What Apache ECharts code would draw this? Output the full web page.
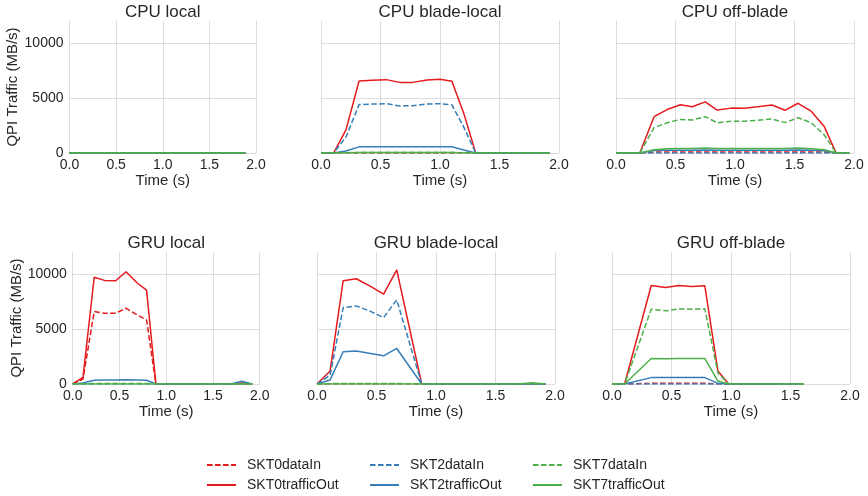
<!DOCTYPE html>
<html>
<head>
    <meta charset="utf-8">
    <title>QPI Traffic</title>
    <script src="https://cdn.jsdelivr.net/npm/echarts@6/dist/echarts.min.js"></script>
    <style>
        html, body { margin: 0; padding: 0; background: #fff; }
        #main { width: 868px; height: 496px; }
    </style>
</head>
<body>
<div id="main"></div>
<script type="text/javascript">

// series order in every panel
var seriesNames = ['SKT0dataIn', 'SKT0trafficOut', 'SKT2dataIn', 'SKT2trafficOut', 'SKT7dataIn', 'SKT7trafficOut'];
var panelTitles = ['CPU local', 'CPU blade-local', 'CPU off-blade', 'GRU local', 'GRU blade-local', 'GRU off-blade'];
var xTicks = [0, 0.5, 1.0, 1.5, 2.0];
var yTicks = [0, 5000, 10000];

// CPU local - everything sits at zero
var tCpuLocal = [0, 0.11, 0.22, 0.33, 0.44, 0.55, 0.66, 0.77, 0.88, 0.99, 1.1, 1.21, 1.32, 1.43, 1.54, 1.65, 1.76, 1.89];
var cpuLocal = [
    [0, 0, 0, 0, 0, 0, 0, 0, 0, 0, 0, 0, 0, 0, 0, 0, 0, 0],
    [0, 0, 0, 0, 0, 0, 0, 0, 0, 0, 0, 0, 0, 0, 0, 0, 0, 0],
    [0, 0, 0, 0, 0, 0, 0, 0, 0, 0, 0, 0, 0, 0, 0, 0, 0, 0],
    [0, 0, 0, 0, 0, 0, 0, 0, 0, 0, 0, 0, 0, 0, 0, 0, 0, 0],
    [0, 0, 0, 0, 0, 0, 0, 0, 0, 0, 0, 0, 0, 0, 0, 0, 0, 0],
    [0, 0, 0, 0, 0, 0, 0, 0, 0, 0, 0, 0, 0, 0, 0, 0, 0, 0]
];

// CPU blade-local
var tCpuBlade = [0, 0.106, 0.21, 0.32, 0.43, 0.55, 0.66, 0.77, 0.89, 1.0, 1.1, 1.2, 1.3, 1.41, 1.52, 1.62, 1.72, 1.82, 1.92];
var cpuBlade = [
    [0, 0, 0, 0, 0, 0, 0, 0, 0, 0, 0, 0, 0, 0, 0, 0, 0, 0, 0],
    [0, 0, 2100, 6550, 6620, 6670, 6420, 6420, 6640, 6700, 6520, 3600, 0, 0, 0, 0, 0, 0, 0],
    [0, 0, 1450, 4400, 4450, 4480, 4280, 4300, 4450, 4480, 4370, 2350, 0, 0, 0, 0, 0, 0, 0],
    [0, 0, 180, 560, 560, 560, 560, 560, 560, 560, 560, 280, 0, 0, 0, 0, 0, 0, 0],
    [0, 0, 20, 40, 40, 40, 40, 40, 40, 40, 40, 20, 0, 0, 0, 0, 0, 0, 0],
    [0, 0, 20, 40, 40, 40, 40, 40, 40, 40, 40, 20, 0, 0, 0, 0, 0, 0, 0]
];

// CPU off-blade
var tCpuOff = [0, 0.1, 0.2, 0.32, 0.43, 0.54, 0.64, 0.75, 0.85, 0.97, 1.08, 1.19, 1.31, 1.42, 1.53, 1.64, 1.75, 1.85, 1.96];
var cpuOff = [
    [0, 0, 0, 80, 90, 100, 100, 100, 100, 100, 100, 100, 100, 100, 100, 100, 80, 0, 0],
    [0, 0, 0, 3300, 3950, 4380, 4200, 4650, 3900, 4080, 4060, 4200, 4360, 3880, 4520, 3800, 2400, 0, 0],
    [0, 0, 0, 0, 0, 0, 0, 0, 0, 0, 0, 0, 0, 0, 0, 0, 0, 0, 0],
    [0, 0, 0, 220, 250, 260, 260, 270, 250, 250, 250, 260, 260, 250, 270, 250, 200, 0, 0],
    [0, 0, 0, 2300, 2750, 3050, 3000, 3300, 2750, 2880, 2880, 2980, 3100, 2760, 3200, 2750, 1650, 0, 0],
    [0, 0, 0, 300, 380, 420, 420, 450, 400, 400, 400, 420, 420, 400, 450, 380, 300, 0, 0]
];

// GRU local
var tGruLocal = [0, 0.11, 0.23, 0.34, 0.46, 0.57, 0.69, 0.79, 0.89, 1.0, 1.12, 1.23, 1.35, 1.46, 1.57, 1.69, 1.81, 1.92];
var gruLocal = [
    [0, 450, 6590, 6430, 6430, 6890, 6280, 5820, 0, 0, 0, 0, 0, 0, 0, 0, 0, 0],
    [0, 610, 9700, 9420, 9390, 10210, 9180, 8540, 0, 0, 0, 0, 0, 0, 0, 0, 80, 0],
    [0, 0, 20, 20, 20, 20, 20, 20, 0, 0, 0, 0, 0, 0, 0, 0, 0, 0],
    [0, 100, 350, 370, 370, 380, 370, 340, 0, 0, 0, 0, 0, 0, 0, 0, 250, 0],
    [0, 20, 50, 50, 50, 50, 50, 50, 0, 0, 0, 0, 0, 0, 0, 0, 0, 0],
    [0, 0, 0, 0, 0, 0, 0, 0, 0, 0, 0, 0, 0, 0, 0, 0, 0, 0]
];

// GRU blade-local
var tGruBlade = [0, 0.11, 0.22, 0.33, 0.45, 0.56, 0.67, 0.88, 1.0, 1.12, 1.23, 1.35, 1.46, 1.57, 1.69, 1.81, 1.92];
var gruBlade = [
    [0, 20, 30, 30, 30, 30, 30, 0, 0, 0, 0, 0, 0, 0, 0, 0, 0],
    [0, 1190, 9390, 9570, 8870, 8170, 10370, 0, 0, 0, 0, 0, 0, 0, 0, 0, 0],
    [0, 800, 6950, 7100, 6600, 6040, 7650, 0, 0, 0, 0, 0, 0, 0, 0, 0, 0],
    [0, 370, 2930, 2990, 2780, 2560, 3230, 0, 0, 0, 0, 0, 0, 0, 0, 0, 0],
    [0, 30, 50, 50, 50, 50, 50, 0, 0, 0, 0, 0, 0, 0, 0, 0, 0],
    [0, 0, 0, 0, 0, 0, 0, 0, 0, 0, 0, 0, 0, 0, 0, 120, 0]
];

// GRU off-blade
var tGruOff = [0, 0.106, 0.33, 0.45, 0.56, 0.67, 0.78, 0.89, 0.98, 1.1, 1.21, 1.32, 1.43, 1.52, 1.61];
var gruOff = [
    [0, 0, 60, 60, 60, 60, 60, 20, 0, 0, 0, 0, 0, 0, 0],
    [0, 0, 8960, 8780, 8960, 8870, 8930, 1190, 0, 0, 0, 0, 0, 0, 0],
    [0, 0, 0, 0, 0, 0, 0, 0, 0, 0, 0, 0, 0, 0, 0],
    [0, 0, 580, 580, 580, 580, 580, 60, 0, 0, 0, 0, 0, 0, 0],
    [0, 0, 6800, 6650, 6830, 6800, 6830, 1000, 0, 0, 0, 0, 0, 0, 0],
    [0, 0, 2320, 2290, 2320, 2320, 2320, 270, 0, 0, 0, 0, 0, 0, 0]
];

var panelTimes = [tCpuLocal, tCpuBlade, tCpuOff, tGruLocal, tGruBlade, tGruOff];
var panelValues = [cpuLocal, cpuBlade, cpuOff, gruLocal, gruBlade, gruOff];

// layout (pixels)
var grids = [
    {left: 69.5, top: 21, width: 186.5, height: 132},
    {left: 321, top: 21, width: 238, height: 132},
    {left: 616, top: 21, width: 238, height: 132},
    {left: 72.7, top: 252, width: 187, height: 132},
    {left: 317, top: 252, width: 238, height: 132},
    {left: 612, top: 252, width: 238, height: 132}
];

var colors = ['#e41a1c', '#e41a1c', '#377eb8', '#377eb8', '#4daf4a', '#4daf4a'];
var textColor = '#262626';
var gridColor = '#dcdcdc';
var fontFamily = '"Liberation Sans", Arial, sans-serif';

var myChart = echarts.init(document.getElementById('main'), null, {renderer: 'canvas'});

var option = {
    animation: false,
    backgroundColor: '#fff',
    title: [],
    grid: [],
    xAxis: [],
    yAxis: [],
    series: [],
    legend: []
};

for (var i = 0; i < 6; i++) {
    var g = grids[i];
    option.grid.push({left: g.left, top: g.top, width: g.width, height: g.height, containLabel: false});

    option.title.push({
        text: panelTitles[i],
        left: g.left + g.width / 2,
        top: g.top - 17,
        textAlign: 'center',
        padding: 0,
        textStyle: {fontFamily: fontFamily, fontSize: 17, fontWeight: 'normal', color: textColor}
    });

    option.xAxis.push({
        type: 'value',
        gridIndex: i,
        min: 0,
        max: 2,
        interval: 0.5,
        name: 'Time (s)',
        nameLocation: 'middle',
        nameGap: 19,
        nameTextStyle: {fontFamily: fontFamily, fontSize: 15, color: textColor},
        axisLine: {show: false},
        axisTick: {show: false},
        axisLabel: {
            margin: 5,
            fontFamily: fontFamily, fontSize: 14, color: textColor,
            formatter: function (v) { return v.toFixed(1); }
        },
        splitLine: {show: true, lineStyle: {color: gridColor, width: 1}}
    });

    var firstCol = (i % 3 === 0);
    option.yAxis.push({
        type: 'value',
        gridIndex: i,
        min: 0,
        max: 12000,
        interval: 5000,
        name: firstCol ? 'QPI Traffic (MB/s)' : '',
        nameLocation: 'middle',
        nameGap: 47,
        nameTextStyle: {fontFamily: fontFamily, fontSize: 15, color: textColor},
        axisLine: {show: false},
        axisTick: {show: false},
        axisLabel: {
            show: firstCol,
            margin: 6,
            showMaxLabel: false,
            fontFamily: fontFamily, fontSize: 14, color: textColor,
            formatter: function (v) { return String(v); }
        },
        splitLine: {show: true, showMaxLine: false, lineStyle: {color: gridColor, width: 1}}
    });

    var t = panelTimes[i];
    var vals = panelValues[i];
    for (var j = 0; j < seriesNames.length; j++) {
        var pts = [];
        for (var k = 0; k < t.length; k++) {
            pts.push([t[k], vals[j][k]]);
        }
        var dashed = (j % 2 === 0);
        option.series.push({
            name: seriesNames[j],
            type: 'line',
            xAxisIndex: i,
            yAxisIndex: i,
            data: pts,
            symbol: 'none',
            color: colors[j],
            itemStyle: {color: colors[j]},
            lineStyle: {color: colors[j], width: 1.5, type: dashed ? [5.5, 2.5] : 'solid'}
        });
    }
}

// legend, three columns of two
var legendLefts = [206, 369, 532];
for (var c = 0; c < 3; c++) {
    option.legend.push({
        orient: 'vertical',
        left: legendLefts[c],
        top: 458,
        padding: 0,
        itemWidth: 29,
        itemHeight: 14,
        itemGap: 6,
        itemStyle: {opacity: 0},
        data: [seriesNames[c * 2], seriesNames[c * 2 + 1]],
        textStyle: {fontFamily: fontFamily, fontSize: 14, color: textColor, padding: [0, 0, 0, 6]}
    });
}

myChart.setOption(option);

</script>
</body>
</html>
